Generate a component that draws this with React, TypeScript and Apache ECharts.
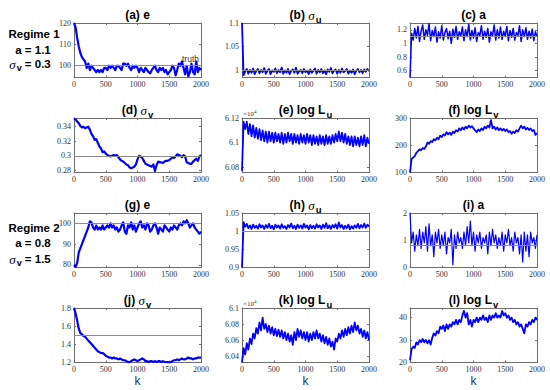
import React, { useEffect, useRef } from "react";
import * as echarts from "echarts";

// sample positions (k)
const K = [
  0, 25, 50, 75, 100, 125, 150, 175, 200,
  225, 250, 275, 300, 325, 350, 375, 400, 425,
  450, 475, 500, 525, 550, 575, 600, 625, 650,
  675, 700, 725, 750, 775, 800, 825, 850, 875,
  900, 925, 950, 975, 1000, 1025, 1050, 1075, 1100,
  1125, 1150, 1175, 1200, 1225, 1250, 1275, 1300, 1325,
  1350, 1375, 1400, 1425, 1450, 1475, 1500, 1525, 1550,
  1575, 1600, 1625, 1650, 1675, 1700, 1725, 1750, 1775,
  1800, 1825, 1850, 1875, 1900, 1925, 1950, 1975, 2000,
];

// Regime 1
const eR1 = [
  120, 118, 113, 109, 106, 104, 103, 102, 99,
  101, 98, 100, 99, 98, 97, 98, 97, 98,
  97, 99, 99, 98, 100, 99, 100, 99, 98,
  100, 100, 99, 98, 101, 101, 100, 101, 99,
  98, 100, 99, 100, 99, 97, 99, 98, 97,
  99, 98, 97, 96.5, 98, 99, 100, 98, 97,
  99, 98, 99, 97, 98, 96, 97, 98, 100,
  99, 95.5, 98, 101, 100, 102, 99, 96, 100,
  95, 97, 101, 97, 96, 102, 97, 99, 98,
];
const sigmaU1 = [
  1.1, 0.99, 0.998, 1.003, 0.993, 1.001, 0.995, 1.004, 0.992,
  0.999, 1.003, 0.994, 1.001, 0.996, 1.005, 0.993, 0.999, 1.003,
  0.992, 1.0, 0.997, 1.004, 0.994, 1.001, 0.996, 1.006, 0.993,
  1.0, 0.995, 1.003, 0.992, 0.999, 1.002, 0.995, 1.006, 0.993,
  0.998, 1.001, 0.994, 1.003, 0.996, 1.0, 0.992, 1.002, 0.995,
  0.999, 1.004, 0.993, 1.001, 0.996, 1.003, 0.994, 1.0, 0.992,
  1.002, 0.997, 1.005, 0.994, 0.999, 1.002, 0.993, 1.001, 0.995,
  1.004, 0.996, 0.999, 1.003, 0.993, 1.0, 0.995, 1.002, 0.992,
  0.999, 1.003, 0.996, 1.001, 0.994, 1.002, 0.997, 1.003, 0.998,
];
const aR1 = [
  0.5, 1.15, 1.05, 1.22, 1.08, 1.25, 1.03, 1.18, 1.27,
  1.06, 1.2, 1.12, 1.29, 1.04, 1.19, 1.1, 1.24, 1.02,
  1.17, 1.08, 1.26, 1.05, 1.16, 1.22, 1.07, 1.18, 1.0,
  1.21, 1.09, 1.25, 1.06, 1.17, 1.11, 1.24, 1.04, 1.2,
  1.1, 1.28, 1.05, 1.19, 1.08, 1.23, 1.03, 1.16, 1.12,
  1.26, 1.06, 1.18, 1.09, 1.22, 1.02, 1.17, 1.11, 1.27,
  1.05, 1.2, 1.08, 1.24, 1.06, 1.18, 1.1, 1.25, 1.04,
  1.19, 1.09, 1.22, 1.05, 1.16, 1.12, 1.26, 1.03, 1.2,
  1.1, 1.23, 1.06, 1.18, 1.08, 1.21, 1.04, 1.17, 1.1,
];
const sigmaV1 = [
  0.351, 0.35, 0.347, 0.345, 0.341, 0.339, 0.34, 0.338, 0.339,
  0.34, 0.336, 0.33, 0.327, 0.322, 0.323, 0.318, 0.313, 0.31,
  0.305, 0.306, 0.303, 0.301, 0.3, 0.299, 0.3, 0.301, 0.3,
  0.301, 0.298, 0.295, 0.293, 0.292, 0.29, 0.288, 0.287, 0.284,
  0.283, 0.284, 0.285, 0.288, 0.295, 0.3, 0.299, 0.297, 0.293,
  0.289, 0.288, 0.287, 0.286, 0.285, 0.288, 0.279, 0.287, 0.292,
  0.291, 0.291, 0.29, 0.292, 0.293, 0.293, 0.294, 0.296, 0.298,
  0.297, 0.299, 0.302, 0.301, 0.3, 0.298, 0.301, 0.299, 0.291,
  0.29, 0.289, 0.289, 0.292, 0.294, 0.296, 0.293, 0.299, 0.301,
];
// log L_u in units of 10^4
const logLu1 = [
  6.077, 6.117, 6.111, 6.117, 6.107, 6.115, 6.105, 6.114, 6.104,
  6.112, 6.103, 6.111, 6.102, 6.11, 6.101, 6.109, 6.1, 6.109,
  6.101, 6.108, 6.1, 6.108, 6.101, 6.107, 6.1, 6.108, 6.099,
  6.107, 6.1, 6.108, 6.101, 6.107, 6.099, 6.107, 6.1, 6.106,
  6.099, 6.107, 6.1, 6.106, 6.099, 6.107, 6.1, 6.106, 6.098,
  6.106, 6.099, 6.105, 6.098, 6.106, 6.099, 6.105, 6.098, 6.106,
  6.099, 6.105, 6.099, 6.106, 6.1, 6.107, 6.101, 6.109, 6.101,
  6.108, 6.1, 6.107, 6.099, 6.105, 6.098, 6.105, 6.097, 6.105,
  6.098, 6.104, 6.097, 6.105, 6.098, 6.106, 6.097, 6.104, 6.099,
];
const logLv1 = [
  100, 150, 155, 160, 172, 178, 185, 182, 190,
  186, 195, 210, 205, 215, 212, 222, 218, 228,
  222, 235, 230, 240, 236, 248, 240, 246, 238,
  250, 245, 255, 250, 262, 255, 265, 258, 268,
  262, 272, 265, 270, 262, 255, 248, 258, 252,
  262, 256, 268, 262, 272, 265, 292, 262, 268,
  258, 265, 255, 262, 254, 260, 252, 258, 248,
  252, 242, 250, 245, 255, 250, 262, 272, 262,
  268, 258, 264, 256, 262, 252, 256, 238, 245,
];

// Regime 2
const eR2 = [
  80, 79, 81, 86, 88, 90, 92, 94, 96,
  98, 101, 100.5, 98, 97, 99, 97, 98, 97,
  99, 97, 98, 99, 98, 100, 98, 99, 97,
  98, 96, 97, 99, 100.5, 96, 95, 99, 98,
  100.5, 97, 99, 96, 98, 100, 101, 98, 99,
  97, 100, 99, 96, 97, 99, 100, 98, 95,
  98, 97, 96, 99, 98, 97, 96, 98, 97,
  99, 98, 97, 99, 100, 99, 101, 100, 101.5,
  100, 98, 99, 100, 98, 97, 96, 95, 96,
];
const sigmaU2 = [
  0.9, 1.025, 1.012, 1.02, 1.008, 1.016, 1.006, 1.018, 1.009,
  1.015, 1.007, 1.019, 1.01, 1.016, 1.006, 1.017, 1.009, 1.02,
  1.008, 1.015, 1.005, 1.018, 1.01, 1.016, 1.007, 1.019, 1.009,
  1.014, 1.006, 1.017, 1.01, 1.021, 1.008, 1.015, 1.006, 1.018,
  1.009, 1.016, 1.007, 1.02, 1.01, 1.016, 1.005, 1.017, 1.008,
  1.015, 1.007, 1.019, 1.01, 1.016, 1.006, 1.018, 1.009, 1.022,
  1.008, 1.016, 1.006, 1.017, 1.01, 1.019, 1.007, 1.024, 1.01,
  1.017, 1.006, 1.015, 1.008, 1.018, 1.005, 1.014, 1.007, 1.016,
  1.009, 1.02, 1.008, 1.017, 1.01, 1.021, 1.009, 1.018, 1.012,
];
const aR2 = [
  2.0, 0.9, 1.3, 0.6, 1.2, 0.8, 1.4, 0.7, 1.3,
  0.9, 1.5, 0.6, 1.6, 0.8, 1.2, 0.4, 1.3, 0.9,
  1.4, 0.7, 1.2, 0.8, 1.3, 0.5, 1.1, 0.9, 1.4,
  0.1, 1.2, 0.7, 1.3, 0.9, 1.1, 0.7, 1.3, 0.8,
  1.5, 0.9, 1.7, 0.8, 1.3, 0.6, 1.2, 0.9, 1.3,
  0.7, 1.1, 0.9, 1.2, 0.5, 1.3, 0.8, 1.4, 0.9,
  1.2, 0.7, 1.1, 0.8, 1.3, 0.6, 1.2, 0.9, 1.4,
  0.8, 1.1, 0.6, 1.3, 0.9, 1.1, 0.5, 1.2, 0.2,
  1.3, 0.6, 1.2, 0.4, 1.3, 0.9, 1.1, 0.7, 1.2,
];
const sigmaV2 = [
  1.8, 1.74, 1.66, 1.57, 1.52, 1.51, 1.49, 1.48, 1.46,
  1.44, 1.42, 1.4, 1.38, 1.36, 1.34, 1.32, 1.31, 1.3,
  1.3, 1.29, 1.27, 1.26, 1.25, 1.25, 1.24, 1.25, 1.24,
  1.24, 1.23, 1.24, 1.23, 1.22, 1.22, 1.21, 1.2, 1.2,
  1.21, 1.22, 1.23, 1.22, 1.21, 1.22, 1.23, 1.24, 1.23,
  1.21, 1.21, 1.2, 1.21, 1.21, 1.2, 1.21, 1.2, 1.21,
  1.21, 1.2, 1.21, 1.2, 1.2, 1.2, 1.197, 1.2, 1.21,
  1.22, 1.22, 1.23, 1.22, 1.23, 1.24, 1.23, 1.23, 1.24,
  1.25, 1.24, 1.24, 1.23, 1.24, 1.24, 1.25, 1.25, 1.25,
];
const logLu2 = [
  6.032, 6.05, 6.042, 6.056, 6.048, 6.062, 6.055, 6.068, 6.062,
  6.075, 6.068, 6.082, 6.072, 6.088, 6.074, 6.08, 6.07, 6.078,
  6.068, 6.076, 6.066, 6.074, 6.065, 6.073, 6.064, 6.072, 6.062,
  6.07, 6.06, 6.068, 6.058, 6.066, 6.054, 6.07, 6.06, 6.074,
  6.064, 6.072, 6.062, 6.07, 6.06, 6.07, 6.058, 6.068, 6.06,
  6.07, 6.062, 6.072, 6.062, 6.068, 6.058, 6.066, 6.056, 6.064,
  6.054, 6.062, 6.052, 6.058, 6.048, 6.062, 6.058, 6.068, 6.062,
  6.072, 6.064, 6.074, 6.066, 6.076, 6.068, 6.078, 6.07, 6.082,
  6.072, 6.078, 6.068, 6.074, 6.064, 6.072, 6.062, 6.07, 6.06,
];
const logLv2 = [
  21, 26, 27, 26.5, 29, 28, 30, 29, 30.5,
  29, 30, 28.5, 30, 28, 31, 33, 32, 34,
  33, 36, 35, 36.5, 34, 37, 35, 37, 36,
  38, 37, 39, 37, 39, 38, 41, 43, 40,
  42, 37, 39, 36, 39, 38, 40, 38, 40,
  39, 41, 39, 40, 38, 41, 39, 41, 40,
  42, 40, 41, 40, 43, 41, 42, 40, 41,
  39, 40, 38, 39, 37, 38, 36, 37, 35,
  33, 37, 36, 38, 37, 39, 38, 40, 39,
];

// y tick labels per panel
const ticksA = [100, 110, 120];
const ticksB = [1, 1.05, 1.1];
const ticksC = [0.6, 0.8, 1, 1.2];
const ticksD = [0.28, 0.3, 0.32, 0.34];
const ticksE = [6.08, 6.1, 6.12];
const ticksF = [100, 200, 300];
const ticksG = [80, 90, 100];
const ticksH = [0.9, 0.95, 1, 1.05];
const ticksI = [0, 1, 2];
const ticksJ = [1.2, 1.4, 1.6, 1.8];
const ticksK = [6.04, 6.06, 6.08, 6.1];
const ticksL = [20, 30, 40];
const xTicks = [0, 500, 1000, 1500, 2000];

// panel titles (rich text)
const titles = [
  "{t|(a) e}", "{t|(b) }{g|σ}{s|u}", "{t|(c) a}",
  "{t|(d) }{g|σ}{s|v}", "{t|(e) log L}{s|u}", "{t|(f) log L}{s|v}",
  "{t|(g) e}", "{t|(h) }{g|σ}{s|u}", "{t|(i) a}",
  "{t|(j) }{g|σ}{s|v}", "{t|(k) log L}{s|u}", "{t|(l) log L}{s|v}",
];

const LEFTS = [74, 242, 410];
const TOPS = [23, 118, 213, 308];
const W = 127;
const H = 54.5;
const BLUE = "#0000ff";
const AX = "#6e6e6e";
const LBL = "#333";
const SERIF = "'Liberation Serif', 'DejaVu Serif', serif";
const SANS = "'Liberation Sans', Arial, sans-serif";

type Panel = {
  values: number[];
  min: number;
  max: number;
  ticks: number[];
  truth?: number;
  width: number;
  exp?: boolean;
};

const panels: Panel[] = [
  { values: eR1, min: 94.5, max: 120, ticks: ticksA, truth: 100, width: 2.2 },
  { values: sigmaU1, min: 0.985, max: 1.1, ticks: ticksB, truth: 1, width: 1.8 },
  { values: aR1, min: 0.5, max: 1.3, ticks: ticksC, truth: 1.1, width: 1.5 },
  { values: sigmaV1, min: 0.277, max: 0.352, ticks: ticksD, truth: 0.3, width: 2.2 },
  { values: logLu1, min: 6.0757, max: 6.12, ticks: ticksE, width: 1.8, exp: true },
  { values: logLv1, min: 100, max: 300, ticks: ticksF, width: 1.8 },
  { values: eR2, min: 78.7, max: 105, ticks: ticksG, truth: 100, width: 2.2 },
  { values: sigmaU2, min: 0.9, max: 1.05, ticks: ticksH, truth: 1, width: 1.8 },
  { values: aR2, min: 0, max: 2, ticks: ticksI, truth: 0.8, width: 1.2 },
  { values: sigmaV2, min: 1.195, max: 1.8, ticks: ticksJ, truth: 1.5, width: 2.2 },
  { values: logLu2, min: 6.032, max: 6.1, ticks: ticksK, width: 1.8, exp: true },
  { values: logLv2, min: 20, max: 44.3, ticks: ticksL, width: 1.8 },
];

const richTitle = {
  t: { fontFamily: SANS, fontWeight: "bold", fontSize: 12, fill: "#000" },
  g: { fontFamily: SERIF, fontStyle: "italic", fontSize: 13, fill: "#000" },
  s: { fontFamily: SANS, fontWeight: "bold", fontSize: 9.5, fill: "#000", padding: [8, 0, 0, 1] },
};

const fmt = (v: number) => String(v);

export default function App() {
  const ref = useRef<HTMLDivElement>(null);
  useEffect(() => {
    if (!ref.current) return;
    const chart = echarts.init(ref.current, undefined, { renderer: "svg" });
    const grids: any[] = [];
    const xAxes: any[] = [];
    const yAxes: any[] = [];
    const series: any[] = [];
    const graphics: any[] = [];

    panels.forEach((p, i) => {
      const col = i % 3;
      const row = Math.floor(i / 3);
      const left = LEFTS[col];
      const top = TOPS[row];
      grids.push({ left, top, width: W, height: H, show: false });
      const axisLine = { show: true, onZero: false, lineStyle: { color: AX, width: 1 } };
      const tick = { show: true, inside: true, length: 2, lineStyle: { color: AX } };
      xAxes.push({
        gridIndex: i, type: "value", min: 0, max: 2000, interval: 500,
        axisLine, axisTick: tick,
        axisLabel: { fontSize: 8, color: LBL, margin: 3, fontFamily: SERIF, customValues: xTicks, formatter: fmt },
        splitLine: { show: false },
      });
      xAxes.push({
        gridIndex: i, type: "value", min: 0, max: 2000, interval: 500, position: "top",
        axisLine, axisTick: tick, axisLabel: { show: false }, splitLine: { show: false },
      });
      yAxes.push({
        gridIndex: i, type: "value", min: p.min, max: p.max,
        axisLine, axisTick: { ...tick, customValues: p.ticks },
        axisLabel: { fontSize: 8, color: LBL, margin: 3, fontFamily: SERIF, customValues: p.ticks, formatter: fmt },
        splitLine: { show: false },
      });
      yAxes.push({
        gridIndex: i, type: "value", min: p.min, max: p.max, position: "right",
        axisLine, axisTick: { ...tick, customValues: p.ticks },
        axisLabel: { show: false }, splitLine: { show: false },
      });
      const s: any = {
        type: "line",
        xAxisIndex: 2 * i,
        yAxisIndex: 2 * i,
        data: K.map((k, j) => [k, p.values[j]]),
        showSymbol: false,
        symbol: "none",
        clip: true,
        lineStyle: { color: BLUE, width: p.width, join: "round" },
        silent: true,
      };
      if (p.truth !== undefined) {
        s.markLine = {
          silent: true,
          symbol: ["none", "none"],
          lineStyle: { color: "#8c8c8c", width: 1, type: "solid" },
          label: i === 0
            ? { show: true, position: "insideEndTop", formatter: "truth", fontSize: 8.5, color: "#333", fontFamily: SANS, distance: 2 }
            : { show: false },
          data: [{ yAxis: p.truth }],
        };
      }
      series.push(s);

      graphics.push({
        type: "text",
        x: left + W / 2,
        y: top - 8,
        style: { text: titles[i], rich: richTitle, align: "center", verticalAlign: "middle" },
      });
      if (p.exp) {
        graphics.push({
          type: "text",
          x: left + 1,
          y: top - 4.5,
          style: {
            text: "{a|×10}{b|4}",
            rich: {
              a: { fontSize: 7, fontFamily: SERIF, fill: LBL },
              b: { fontSize: 5, fontFamily: SERIF, fill: LBL, padding: [0, 0, 5, 0] },
            },
            align: "left",
            verticalAlign: "middle",
          },
        });
      }
      if (row === 3) {
        graphics.push({
          type: "text",
          x: left + W / 2,
          y: 381,
          style: {
            text: "{k|k}",
            rich: { k: { fontSize: 12, fontFamily: SANS, fill: "#333" } },
            align: "center",
            verticalAlign: "middle",
          },
        });
      }
    });

    const regime = (ys: number[], name: string, a: string, sv: string) => {
      const rich = {
        t: { fontFamily: SANS, fontWeight: "bold", fontSize: 11.5, fill: "#000" },
        g: { fontFamily: SERIF, fontStyle: "italic", fontSize: 13, fill: "#000" },
        s: { fontFamily: SANS, fontWeight: "bold", fontSize: 9, fill: "#000", padding: [8, 0, 0, 1] },
      };
      graphics.push({ type: "text", x: 34, y: ys[0], style: { text: `{t|${name}}`, rich, align: "center", verticalAlign: "middle" } });
      graphics.push({ type: "text", x: 33, y: ys[1], style: { text: `{t|a = ${a}}`, rich, align: "center", verticalAlign: "middle" } });
      graphics.push({ type: "text", x: 30, y: ys[2], style: { text: `{g|σ}{s|v}{t| = ${sv}}`, rich, align: "center", verticalAlign: "middle" } });
    };
    regime([34, 50, 64], "Regime 1", "1.1", "0.3");
    regime([228, 243, 259], "Regime 2", "0.8", "1.5");

    chart.setOption({
      animation: false,
      grid: grids,
      xAxis: xAxes,
      yAxis: yAxes,
      series,
      graphic: graphics,
    });
    return () => chart.dispose();
  }, []);
  return <div ref={ref} style={{ position: "fixed", left: 0, top: 0, width: 550, height: 390, background: "#fff" }} />;
}
